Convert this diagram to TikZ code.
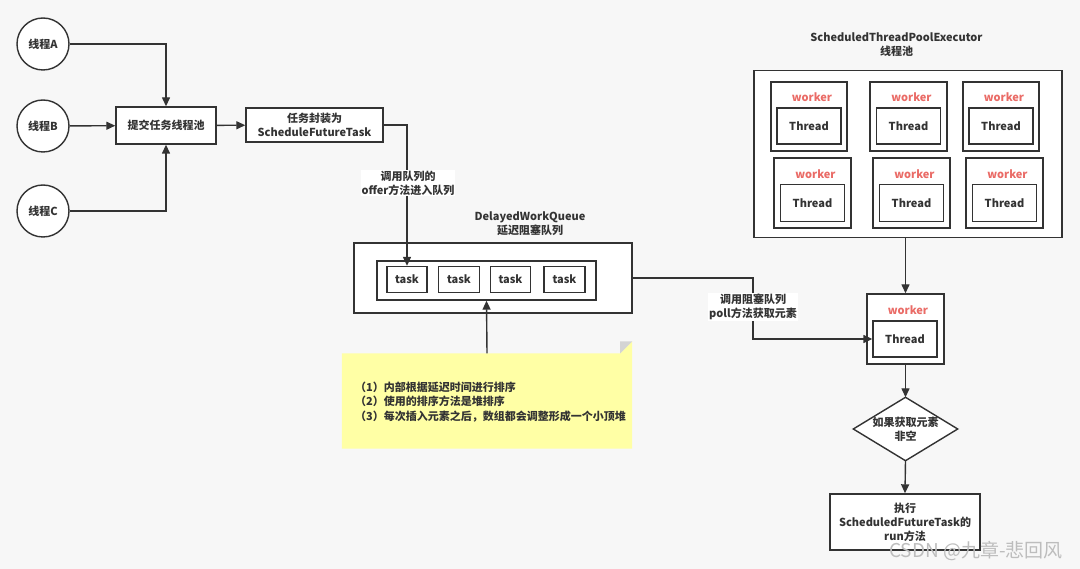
\documentclass[tikz,border=0pt]{standalone}
\usepackage{fontspec}
\setmainfont{Noto Sans CJK SC}
\usetikzlibrary{arrows.meta}
\definecolor{bg}{HTML}{F7F7F7}
\definecolor{ln}{HTML}{333333}
\definecolor{tx}{HTML}{333333}
\definecolor{wk}{HTML}{EA6B66}
\definecolor{notefill}{HTML}{FFFFA5}
\definecolor{foldc}{HTML}{D4D4D4}
\definecolor{wm}{HTML}{BDBDBD}
\tikzset{
  box/.style={draw=ln, fill=white, line width=1.4pt, inner sep=0pt, align=center, text=tx},
  circ/.style={draw=ln, fill=white, line width=1.4pt, circle, minimum size=52pt, inner sep=0pt, text=tx},
  arr/.style={draw=ln, line width=1.4pt, -{Triangle[length=9pt,width=8pt]}},
  lbl/.style={fill=white, inner sep=1pt, align=center, text=tx},
  ttl/.style={align=center, text=tx, inner sep=0pt},
  wlabel/.style={text=wk, inner sep=0pt},
}
\begin{document}
\begin{tikzpicture}[x=1pt,y=-1pt,font=\fontsize{11}{14}\selectfont\bfseries]
\fill[bg] (0,0) rectangle (1080,569);
\useasboundingbox (0,0) rectangle (1080,569);

% left threads
\node[circ] (tA) at (43,44) {线程A};
\node[circ] (tB) at (43,126) {线程B};
\node[circ] (tC) at (43,211) {线程C};
\node[box, minimum width=100pt, minimum height=37pt] (submit) at (166,125.5) {提交任务线程池};
\node[box, minimum width=137pt, minimum height=34pt] (wrap) at (314.5,125) {任务封装为\\ScheduleFutureTask};

% delayed work queue
\node[ttl] (dwqt) at (530,224) {DelayedWorkQueue\\延迟阻塞队列};
\node[box, minimum width=278pt, minimum height=70pt] (outer) at (493,278) {};
\node[box, minimum width=219pt, minimum height=39pt] (inner) at (486.5,280.5) {};
\node[box, minimum width=40pt, minimum height=26pt] (task1) at (407,279.5) {task};
\node[box, minimum width=41pt, minimum height=26pt] (task2) at (459,279.5) {task};
\node[box, minimum width=40pt, minimum height=26pt] (task3) at (510.5,279.5) {task};
\node[box, minimum width=41pt, minimum height=26pt] (task4) at (564.5,279.5) {task};

% note
\node[minimum width=290pt, minimum height=95pt, inner sep=0pt] (note) at (487,401) {};
\fill[notefill] (note.north west) -- ([xshift=-12pt]note.north east) -- ([yshift=12pt]note.north east) -- (note.south east) -- (note.south west) -- cycle;
\fill[foldc] ([xshift=-12pt]note.north east) -- ([yshift=12pt]note.north east) -- ([xshift=-12pt,yshift=12pt]note.north east) -- cycle;
\node[anchor=west, align=left, text=tx, inner sep=0pt, font=\fontsize{11}{14.5}\selectfont\bfseries] (notetext) at (355,402) {（1）内部根据延迟时间进行排序\\（2）使用的排序方法是堆排序\\（3）每次插入元素之后，数组都会调整形成一个小顶堆};

% thread pool
\node[ttl] (poolt) at (896.5,45) {ScheduledThreadPoolExecutor\\线程池};
\node[box, minimum width=308pt, minimum height=167pt] (pool) at (908,154) {};
% row 1
\node[box, minimum width=76pt, minimum height=69pt] (w1) at (809,116.5) {};
\node[box, minimum width=64pt, minimum height=36pt] (th1) at (809,126) {Thread};
\node[wlabel] (wl1) at (812,97) {worker};
\node[box, minimum width=77pt, minimum height=69pt] (w2) at (908.5,116.5) {};
\node[box, minimum width=64pt, minimum height=36pt] (th2) at (908.5,126) {Thread};
\node[wlabel] (wl2) at (911.5,97) {worker};
\node[box, minimum width=76pt, minimum height=69pt] (w3) at (1001,116.5) {};
\node[box, minimum width=64pt, minimum height=36pt] (th3) at (1001,126) {Thread};
\node[wlabel] (wl3) at (1004,97) {worker};
% row 2
\node[box, minimum width=77pt, minimum height=70pt] (w4) at (812.5,193) {};
\node[box, minimum width=64pt, minimum height=37pt] (th4) at (812.5,203) {Thread};
\node[wlabel] (wl4) at (815.5,174) {worker};
\node[box, minimum width=77pt, minimum height=70pt] (w5) at (911.5,193) {};
\node[box, minimum width=64pt, minimum height=37pt] (th5) at (911.5,203) {Thread};
\node[wlabel] (wl5) at (914.5,174) {worker};
\node[box, minimum width=77pt, minimum height=70pt] (w6) at (1004.5,193) {};
\node[box, minimum width=64pt, minimum height=37pt] (th6) at (1004.5,203) {Thread};
\node[wlabel] (wl6) at (1007.5,174) {worker};

% single worker
\node[box, minimum width=77pt, minimum height=70pt] (sw) at (905.5,329) {};
\node[box, minimum width=64pt, minimum height=36pt] (sth) at (905,339) {Thread};
\node[wlabel] (swl) at (908,310) {worker};

% decision
\node[minimum width=104pt, minimum height=63pt, inner sep=0pt] (dec) at (905.5,429) {};
\filldraw[fill=white, draw=ln, line width=1.4pt] (dec.north) -- (dec.east) -- (dec.south) -- (dec.west) -- cycle;
\node[ttl] (dect) at (dec.center) {如果获取元素\\非空};

\node[box, minimum width=150pt, minimum height=56pt] (run) at (905,522) {执行\\ScheduledFutureTask的\\run方法};

% connectors
\draw[arr] (tA) -| (submit);
\draw[arr] (tB) -- (submit);
\draw[arr] (tC) -| (submit);
\draw[arr] (submit) -- (wrap);
\draw[arr] (wrap.east) -| (task1.north);
\node[lbl] (lbl1) at (408,183) {调用队列的\\offer方法进入队列};
\draw[arr] (note.north) -- (inner.south);
\coordinate (bend) at (753,339);
\draw[arr] (outer.east) -| (bend) -- (sth.west);
\node[lbl] (lbl2) at (753,307) {调用阻塞队列\\poll方法获取元素};
\draw[arr] (pool.south -| sw.north) -- (sw.north);
\draw[arr] (sw.south) -- (dec.north);
\draw[arr] (dec.south) -- (run.north);

% watermark
\node[text=wm, inner sep=0pt, font=\fontsize{19}{22}\selectfont] (wmark) at (976,551) {CSDN @九章-悲回风};
\end{tikzpicture}
\end{document}
